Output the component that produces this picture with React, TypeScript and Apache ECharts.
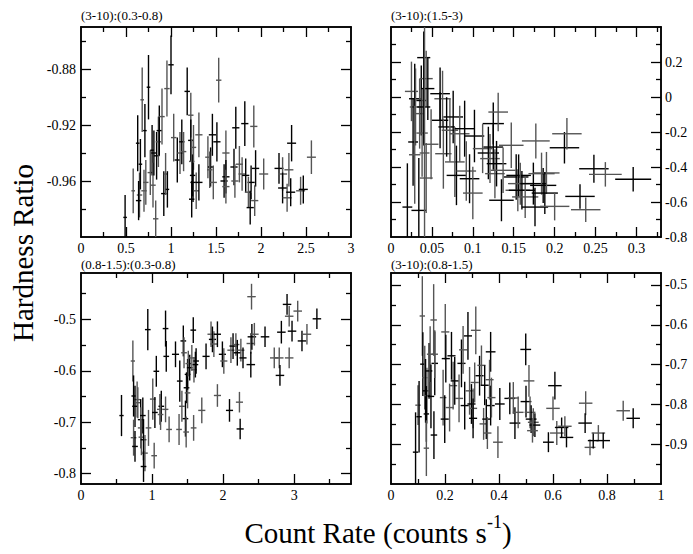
import React, { useEffect, useRef } from "react";
import * as echarts from "echarts";

const FONT = "Liberation Serif";

// ---------- texts ----------
const panelTitles = ["(3-10):(0.3-0.8)", "(3-10):(1.5-3)", "(0.8-1.5):(0.3-0.8)", "(3-10):(0.8-1.5)"];
const yTitle = "Hardness Ratio";
const xTitleMain = "Count Rate (counts s";
const xTitleSup = "-1";

// ---------- panel 1: (3-10):(0.3-0.8) ----------
const p1X = [0.49, 0.58, 0.63, 0.65, 0.64, 0.68, 0.66, 0.70, 0.71, 0.72, 0.75, 0.77, 0.79, 0.80, 0.81, 0.83, 0.84, 0.86, 0.87, 0.90,
  0.92, 0.94, 0.96, 0.955, 1.00, 1.03, 1.07, 1.10, 1.12, 1.14, 1.18, 1.22, 1.22, 1.23, 1.24, 1.25, 1.245, 1.28, 1.23, 1.31,
  1.31, 1.41, 1.44, 1.43, 1.46, 1.47, 1.51, 1.53, 1.59, 1.61, 1.61, 1.61, 1.70, 1.71, 1.72, 1.76, 1.82, 1.79, 1.83, 1.92,
  1.89, 1.86, 1.94, 1.93, 1.88, 2.03, 2.20, 2.24, 2.24, 2.31, 2.34, 2.29, 2.33, 2.44, 2.47, 2.56];
const p1Y = [-0.986, -0.967, -0.933, -0.970, -0.974, -0.902, -0.948, -0.967, -0.924, -0.961, -0.893, -0.954, -0.938, -0.963, -0.940, -0.987, -0.942, -0.932, -0.924, -0.914,
  -0.969, -0.955, -0.966, -0.894, -0.877, -0.929, -0.945, -0.940, -0.932, -0.939, -0.896, -0.913, -0.931, -0.946, -0.956, -0.936, -0.961, -0.967, -0.973, -0.927,
  -0.961, -0.943, -0.950, -0.952, -0.927, -0.961, -0.932, -0.888, -0.960, -0.940, -0.957, -0.964, -0.950, -0.960, -0.922, -0.948, -0.919, -0.955, -0.956, -0.921,
  -0.961, -0.968, -0.951, -0.974, -0.979, -0.955, -0.951, -0.955, -0.965, -0.952, -0.933, -0.972, -0.968, -0.967, -0.966, -0.943];
const p1XErr = [0.02, 0.02, 0.02, 0.03, 0.03, 0.02, 0.02, 0.03, 0.02, 0.03, 0.02, 0.03, 0.02, 0.03, 0.03, 0.03, 0.03, 0.03, 0.03, 0.03,
  0.03, 0.02, 0.02, 0.03, 0.03, 0.03, 0.03, 0.03, 0.03, 0.03, 0.03, 0.03, 0.03, 0.03, 0.03, 0.03, 0.03, 0.03, 0.03, 0.04,
  0.04, 0.03, 0.03, 0.03, 0.04, 0.04, 0.04, 0.03, 0.04, 0.04, 0.04, 0.04, 0.04, 0.04, 0.04, 0.04, 0.04, 0.04, 0.04, 0.04,
  0.04, 0.04, 0.04, 0.04, 0.04, 0.05, 0.05, 0.05, 0.05, 0.05, 0.05, 0.05, 0.05, 0.05, 0.05, 0.05];
const p1YErr = [0.016, 0.016, 0.020, 0.016, 0.014, 0.023, 0.018, 0.015, 0.019, 0.016, 0.023, 0.016, 0.018, 0.016, 0.016, 0.013, 0.017, 0.018, 0.018, 0.020,
  0.016, 0.015, 0.013, 0.020, 0.021, 0.017, 0.016, 0.015, 0.016, 0.014, 0.017, 0.016, 0.015, 0.016, 0.015, 0.016, 0.014, 0.013, 0.013, 0.016,
  0.013, 0.015, 0.014, 0.013, 0.015, 0.012, 0.014, 0.016, 0.012, 0.016, 0.012, 0.012, 0.013, 0.012, 0.015, 0.013, 0.016, 0.012, 0.012, 0.015,
  0.012, 0.011, 0.013, 0.011, 0.012, 0.011, 0.011, 0.012, 0.011, 0.012, 0.013, 0.010, 0.010, 0.010, 0.010, 0.012];

// ---------- panel 2: (3-10):(1.5-3) ----------
const p2X = [0.020, 0.025, 0.029, 0.030, 0.027, 0.029, 0.034, 0.035, 0.037, 0.038, 0.040, 0.043, 0.040, 0.043, 0.045, 0.049, 0.060, 0.063, 0.060, 0.064,
  0.068, 0.072, 0.076, 0.078, 0.080, 0.084, 0.090, 0.092, 0.096, 0.100, 0.102, 0.112, 0.119, 0.121, 0.125, 0.131, 0.125, 0.127, 0.129, 0.137,
  0.135, 0.147, 0.153, 0.155, 0.156, 0.158, 0.160, 0.164, 0.174, 0.177, 0.176, 0.184, 0.186, 0.190, 0.188, 0.200, 0.212, 0.215, 0.231, 0.238,
  0.248, 0.262, 0.296, 0.041];
const p2Y = [-0.629, 0.032, -0.010, -0.057, -0.257, -0.330, -0.648, -0.095, -0.020, -0.206, 0.225, 0.105, -0.057, -0.463, 0.048, -0.270, 0.019, -0.010, -0.133, -0.324,
  -0.171, -0.190, -0.114, -0.371, -0.448, -0.210, -0.181, -0.423, -0.467, -0.549, -0.223, -0.295, -0.320, -0.352, -0.152, -0.086, -0.286, -0.438, -0.381, -0.419,
  -0.590, -0.276, -0.457, -0.533, -0.448, -0.495, -0.533, -0.571, -0.495, -0.251, -0.629, -0.438, -0.505, -0.434, -0.549, -0.625, -0.290, -0.210, -0.568, -0.644,
  -0.410, -0.442, -0.470, -0.320];
const p2XErr = [0.006, 0.008, 0.007, 0.007, 0.006, 0.007, 0.009, 0.006, 0.006, 0.007, 0.008, 0.008, 0.008, 0.008, 0.008, 0.009, 0.012, 0.010, 0.010, 0.010,
  0.010, 0.010, 0.012, 0.012, 0.012, 0.012, 0.012, 0.012, 0.012, 0.012, 0.012, 0.012, 0.013, 0.012, 0.013, 0.012, 0.012, 0.012, 0.012, 0.015,
  0.015, 0.015, 0.015, 0.015, 0.015, 0.015, 0.016, 0.016, 0.016, 0.017, 0.016, 0.016, 0.016, 0.016, 0.016, 0.018, 0.018, 0.018, 0.018, 0.018,
  0.018, 0.020, 0.022, 0.006];
const p2YErr = [0.25, 0.17, 0.20, 0.22, 0.25, 0.28, 0.30, 0.20, 0.20, 0.25, 0.15, 0.16, 0.22, 0.20, 0.18, 0.20, 0.15, 0.16, 0.16, 0.20,
  0.17, 0.18, 0.15, 0.20, 0.17, 0.16, 0.16, 0.17, 0.14, 0.15, 0.15, 0.14, 0.15, 0.14, 0.12, 0.11, 0.13, 0.14, 0.13, 0.13,
  0.12, 0.13, 0.13, 0.12, 0.12, 0.12, 0.11, 0.12, 0.12, 0.10, 0.11, 0.12, 0.10, 0.12, 0.12, 0.08, 0.09, 0.09, 0.07, 0.07,
  0.08, 0.07, 0.07, 0.75];

// ---------- panel 3: (0.8-1.5):(0.3-0.8) ----------
const p3X = [0.57, 0.73, 0.74, 0.79, 0.76, 0.80, 0.84, 0.74, 0.76, 0.84, 0.87, 0.85, 0.88, 0.90, 0.88, 0.95, 0.94, 1.01, 1.04, 1.03,
  1.06, 1.11, 1.13, 1.12, 1.19, 1.19, 1.20, 1.24, 1.33, 1.38, 1.39, 1.42, 1.44, 1.45, 1.47, 1.48, 1.485, 1.50, 1.50, 1.51,
  1.53, 1.56, 1.58, 1.59, 1.61, 1.585, 1.62, 1.70, 1.76, 1.83, 1.85, 1.87, 1.92, 1.92, 1.99, 2.01, 2.09, 2.11, 2.14, 2.18,
  2.20, 2.23, 2.24, 2.25, 2.28, 2.39, 2.405, 2.44, 2.39, 2.40, 2.59, 2.72, 2.82, 2.79, 2.80, 2.93, 2.90, 2.93, 2.97, 3.05,
  3.11, 3.18, 3.32];
const p3Y = [-0.687, -0.581, -0.649, -0.656, -0.669, -0.662, -0.695, -0.730, -0.747, -0.711, -0.687, -0.729, -0.734, -0.760, -0.786, -0.711, -0.520, -0.655, -0.681, -0.765,
  -0.601, -0.675, -0.669, -0.685, -0.518, -0.675, -0.572, -0.714, -0.568, -0.714, -0.620, -0.669, -0.542, -0.565, -0.693, -0.719, -0.633, -0.643, -0.607, -0.586,
  -0.594, -0.575, -0.521, -0.598, -0.588, -0.711, -0.581, -0.677, -0.572, -0.529, -0.539, -0.548, -0.529, -0.648, -0.568, -0.581, -0.677, -0.560, -0.552, -0.549,
  -0.565, -0.661, -0.713, -0.560, -0.575, -0.547, -0.534, -0.529, -0.588, -0.456, -0.534, -0.575, -0.525, -0.575, -0.609, -0.575, -0.471, -0.494, -0.523, -0.484,
  -0.542, -0.529, -0.499];
const p3XErr = [0.03, 0.03, 0.03, 0.04, 0.04, 0.03, 0.04, 0.04, 0.04, 0.04, 0.04, 0.04, 0.04, 0.04, 0.04, 0.04, 0.04, 0.04, 0.04, 0.04,
  0.04, 0.04, 0.04, 0.04, 0.04, 0.04, 0.04, 0.04, 0.05, 0.04, 0.04, 0.04, 0.04, 0.04, 0.04, 0.04, 0.04, 0.04, 0.04, 0.04,
  0.04, 0.04, 0.04, 0.04, 0.04, 0.04, 0.04, 0.05, 0.05, 0.05, 0.05, 0.05, 0.05, 0.05, 0.05, 0.05, 0.05, 0.05, 0.05, 0.05,
  0.05, 0.05, 0.05, 0.05, 0.05, 0.06, 0.06, 0.06, 0.06, 0.06, 0.06, 0.06, 0.06, 0.06, 0.06, 0.06, 0.06, 0.06, 0.06, 0.06,
  0.06, 0.06, 0.06];
const p3YErr = [0.040, 0.040, 0.040, 0.035, 0.040, 0.030, 0.040, 0.035, 0.030, 0.040, 0.035, 0.035, 0.040, 0.035, 0.030, 0.035, 0.040, 0.040, 0.030, 0.025,
  0.030, 0.030, 0.030, 0.030, 0.035, 0.025, 0.030, 0.025, 0.025, 0.030, 0.040, 0.030, 0.030, 0.030, 0.035, 0.030, 0.030, 0.030, 0.030, 0.025,
  0.025, 0.025, 0.025, 0.025, 0.025, 0.025, 0.025, 0.025, 0.025, 0.025, 0.025, 0.025, 0.025, 0.022, 0.025, 0.025, 0.022, 0.025, 0.025, 0.022,
  0.025, 0.020, 0.020, 0.022, 0.020, 0.020, 0.025, 0.022, 0.025, 0.025, 0.020, 0.020, 0.022, 0.020, 0.020, 0.020, 0.020, 0.020, 0.020, 0.020,
  0.020, 0.020, 0.020];

// ---------- panel 4: (3-10):(0.8-1.5) ----------
const p4X = [0.091, 0.100, 0.104, 0.116, 0.118, 0.125, 0.128, 0.133, 0.131, 0.131, 0.141, 0.145, 0.148, 0.158, 0.162, 0.162, 0.159, 0.193, 0.199, 0.201,
  0.203, 0.217, 0.224, 0.230, 0.236, 0.252, 0.261, 0.267, 0.285, 0.314, 0.273, 0.291, 0.298, 0.304, 0.304, 0.310, 0.328, 0.335, 0.347, 0.343,
  0.353, 0.357, 0.369, 0.365, 0.369, 0.372, 0.403, 0.396, 0.440, 0.453, 0.459, 0.471, 0.499, 0.511, 0.500, 0.515, 0.519, 0.527, 0.533, 0.524,
  0.607, 0.600, 0.583, 0.614, 0.632, 0.644, 0.650, 0.721, 0.719, 0.737, 0.749, 0.768, 0.786, 0.860, 0.897];
const p4Y = [-0.920, -0.802, -0.831, -0.578, -0.699, -0.733, -0.766, -0.778, -0.824, -0.910, -0.716, -0.674, -0.780, -0.588, -0.697, -0.674, -0.877, -0.783, -0.837, -0.618,
  -0.685, -0.808, -0.678, -0.753, -0.741, -0.785, -0.697, -0.663, -0.628, -0.614, -0.803, -0.766, -0.799, -0.810, -0.835, -0.745, -0.728, -0.702, -0.752, -0.849,
  -0.837, -0.872, -0.668, -0.738, -0.803, -0.783, -0.799, -0.895, -0.785, -0.784, -0.847, -0.820, -0.662, -0.741, -0.793, -0.820, -0.837, -0.845, -0.852, -0.866,
  -0.753, -0.810, -0.895, -0.872, -0.858, -0.855, -0.883, -0.797, -0.847, -0.908, -0.891, -0.872, -0.891, -0.816, -0.835];
const p4XErr = [0.010, 0.010, 0.010, 0.010, 0.010, 0.010, 0.010, 0.012, 0.010, 0.010, 0.012, 0.012, 0.012, 0.012, 0.012, 0.012, 0.012, 0.012, 0.015, 0.015,
  0.015, 0.015, 0.015, 0.015, 0.015, 0.015, 0.015, 0.015, 0.015, 0.018, 0.015, 0.015, 0.015, 0.015, 0.015, 0.015, 0.015, 0.015, 0.015, 0.015,
  0.015, 0.015, 0.018, 0.015, 0.015, 0.015, 0.018, 0.018, 0.020, 0.020, 0.020, 0.020, 0.020, 0.020, 0.020, 0.020, 0.020, 0.020, 0.020, 0.020,
  0.025, 0.025, 0.020, 0.025, 0.025, 0.025, 0.025, 0.025, 0.025, 0.020, 0.020, 0.025, 0.025, 0.025, 0.025];
const p4YErr = [0.100, 0.050, 0.090, 0.100, 0.080, 0.080, 0.080, 0.070, 0.070, 0.070, 0.070, 0.070, 0.080, 0.090, 0.080, 0.060, 0.060, 0.070, 0.060, 0.070,
  0.060, 0.060, 0.060, 0.060, 0.060, 0.060, 0.060, 0.060, 0.060, 0.060, 0.060, 0.060, 0.050, 0.050, 0.050, 0.050, 0.050, 0.050, 0.050, 0.040,
  0.050, 0.040, 0.050, 0.050, 0.050, 0.050, 0.040, 0.040, 0.040, 0.040, 0.040, 0.040, 0.040, 0.040, 0.040, 0.040, 0.035, 0.035, 0.030, 0.030,
  0.035, 0.030, 0.025, 0.030, 0.025, 0.025, 0.025, 0.030, 0.025, 0.020, 0.020, 0.020, 0.020, 0.025, 0.025];

// ---------- axis ranges and ticks ----------
const xRanges = [[0, 3], [0, 0.33], [0, 3.8], [0, 1]];
const yRanges = [[-1.0, -0.85], [-0.8, 0.4], [-0.82, -0.41], [-1.0, -0.47]];
const xLabels = [
  [0, 0.5, 1, 1.5, 2, 2.5, 3],
  [0, 0.05, 0.1, 0.15, 0.2, 0.25, 0.3],
  [0, 1, 2, 3],
  [0, 0.2, 0.4, 0.6, 0.8, 1],
];
const yLabels = [
  [-0.96, -0.92, -0.88],
  [-0.8, -0.6, -0.4, -0.2, 0, 0.2],
  [-0.8, -0.7, -0.6, -0.5],
  [-0.9, -0.8, -0.7, -0.6, -0.5],
];
const xMajor = [
  [0.5, 1, 1.5, 2, 2.5],
  [0.05, 0.1, 0.15, 0.2, 0.25, 0.3],
  [1, 2, 3],
  [0.2, 0.4, 0.6, 0.8],
];
const xMinor = [
  [0.25, 0.75, 1.25, 1.75, 2.25, 2.75],
  [0.025, 0.075, 0.125, 0.175, 0.225, 0.275, 0.325],
  [0.5, 1.5, 2.5, 3.5],
  [0.1, 0.3, 0.5, 0.7, 0.9],
];
const yMajor = [
  [-0.96, -0.92, -0.88],
  [-0.6, -0.4, -0.2, 0, 0.2],
  [-0.8, -0.7, -0.6, -0.5],
  [-0.9, -0.8, -0.7, -0.6, -0.5],
];
const yMinor = [
  [-0.98, -0.94, -0.9, -0.86],
  [-0.7, -0.5, -0.3, -0.1, 0.1, 0.3],
  [-0.75, -0.65, -0.55, -0.45],
  [-0.95, -0.85, -0.75, -0.65, -0.55],
];

const panelData = [
  [p1X, p1Y, p1XErr, p1YErr],
  [p2X, p2Y, p2XErr, p2YErr],
  [p3X, p3Y, p3XErr, p3YErr],
  [p4X, p4Y, p4XErr, p4YErr],
];

// layout
const GRIDS = [
  { left: 81, top: 27, width: 270, height: 210 },
  { left: 391, top: 27, width: 270, height: 210 },
  { left: 81, top: 273, width: 270, height: 211 },
  { left: 391, top: 273, width: 270, height: 211 },
];
const TITLE_Y = [15, 15, 264, 264];
const LABEL_RIGHT = [false, true, false, true];

function makeAxis(grid: number, pos: string, range: number[], ticks: number[], len: number, labels: number[] | null, margin: number) {
  return {
    type: "value",
    gridIndex: grid,
    position: pos,
    min: range[0],
    max: range[1],
    scale: true,
    axisLine: { show: true, onZero: false, lineStyle: { color: "#000", width: 1.5 } },
    axisTick: { show: true, inside: true, length: len, customValues: ticks, lineStyle: { color: "#000", width: 1.3 } },
    axisLabel: labels
      ? { show: true, customValues: labels, margin, fontFamily: FONT, fontSize: 14, lineHeight: 14, color: "#000", hideOverlap: false }
      : { show: false },
    splitLine: { show: false },
    minorTick: { show: false },
    minorSplitLine: { show: false },
  };
}

function renderErr(params: any, api: any) {
  const x = api.value(0), y = api.value(1), xe = api.value(2), ye = api.value(3);
  const cs = params.coordSys;
  const x0 = cs.x, x1 = cs.x + cs.width, y0 = cs.y, y1 = cs.y + cs.height;
  const cl = (v: number, a: number, b: number) => Math.max(a, Math.min(b, v));
  const c = api.coord([x, y]);
  const l = api.coord([x - xe, y])[0];
  const r = api.coord([x + xe, y])[0];
  const t = api.coord([x, y + ye])[1];
  const b = api.coord([x, y - ye])[1];
  const color = params.dataIndex % 2 === 0 ? "#000" : "#555";
  const style = { stroke: color, lineWidth: 1.4 };
  return {
    type: "group",
    children: [
      { type: "line", shape: { x1: cl(l, x0, x1), y1: c[1], x2: cl(r, x0, x1), y2: c[1] }, style },
      { type: "line", shape: { x1: c[0], y1: cl(t, y0, y1), x2: c[0], y2: cl(b, y0, y1) }, style },
    ],
  };
}

export default function App() {
  const ref = useRef<HTMLDivElement>(null);
  useEffect(() => {
    if (!ref.current) return;
    const chart = echarts.init(ref.current, null, { renderer: "svg" });
    const xAxis: any[] = [];
    const yAxis: any[] = [];
    const series: any[] = [];
    const graphic: any[] = [];
    for (let g = 0; g < 4; g++) {
      xAxis.push(makeAxis(g, "bottom", xRanges[g], xMajor[g], 10, xLabels[g], 4));
      xAxis.push(makeAxis(g, "bottom", xRanges[g], xMinor[g], 5, null, 0));
      xAxis.push(makeAxis(g, "top", xRanges[g], xMajor[g], 10, null, 0));
      xAxis.push(makeAxis(g, "top", xRanges[g], xMinor[g], 5, null, 0));
      const right = LABEL_RIGHT[g];
      yAxis.push(makeAxis(g, "left", yRanges[g], yMajor[g], 10, right ? null : yLabels[g], 5));
      yAxis.push(makeAxis(g, "left", yRanges[g], yMinor[g], 5, null, 0));
      yAxis.push(makeAxis(g, "right", yRanges[g], yMajor[g], 10, right ? yLabels[g] : null, 4));
      yAxis.push(makeAxis(g, "right", yRanges[g], yMinor[g], 5, null, 0));
      const [xs, ys, xes, yes] = panelData[g];
      series.push({
        type: "custom",
        xAxisIndex: g * 4,
        yAxisIndex: g * 4,
        renderItem: renderErr,
        encode: { x: 0, y: 1 },
        data: xs.map((v, i) => [v, ys[i], xes[i], yes[i]]),
        silent: true,
        z: 3,
      });
      graphic.push({
        type: "text",
        x: GRIDS[g].left,
        y: TITLE_Y[g],
        style: {
          text: panelTitles[g],
          fontFamily: FONT,
          fontSize: 13,
          fill: "#000",
          align: "left",
          verticalAlign: "middle",
        },
      });
    }
    graphic.push({
      type: "text",
      x: 23,
      y: 253,
      rotation: Math.PI / 2,
      style: {
        text: yTitle,
        fontFamily: FONT,
        fontSize: 29,
        fill: "#000",
        align: "center",
        verticalAlign: "middle",
      },
    });
    graphic.push({
      type: "text",
      x: 378,
      y: 533,
      style: {
        text: "{m|" + xTitleMain + "}{s|" + xTitleSup + "}{m|)}",
        align: "center",
        verticalAlign: "middle",
        fill: "#000",
        fontFamily: FONT,
        fontSize: 29,
        rich: {
          m: { fontFamily: FONT, fontSize: 29, lineHeight: 40, fill: "#000" },
          s: { fontFamily: FONT, fontSize: 18, lineHeight: 20, verticalAlign: "top", fill: "#000" },
        },
      },
    });

    chart.setOption({
      animation: false,
      backgroundColor: "#fff",
      textStyle: { fontFamily: FONT },
      grid: GRIDS.map((gr) => ({ ...gr, containLabel: false, outerBoundsMode: "none" })),
      xAxis,
      yAxis,
      series,
      graphic,
    });
    return () => chart.dispose();
  }, []);
  return (
    <div
      ref={ref}
      style={{ position: "absolute", left: 0, top: 0, width: 693, height: 554, background: "#fff" }}
    />
  );
}
